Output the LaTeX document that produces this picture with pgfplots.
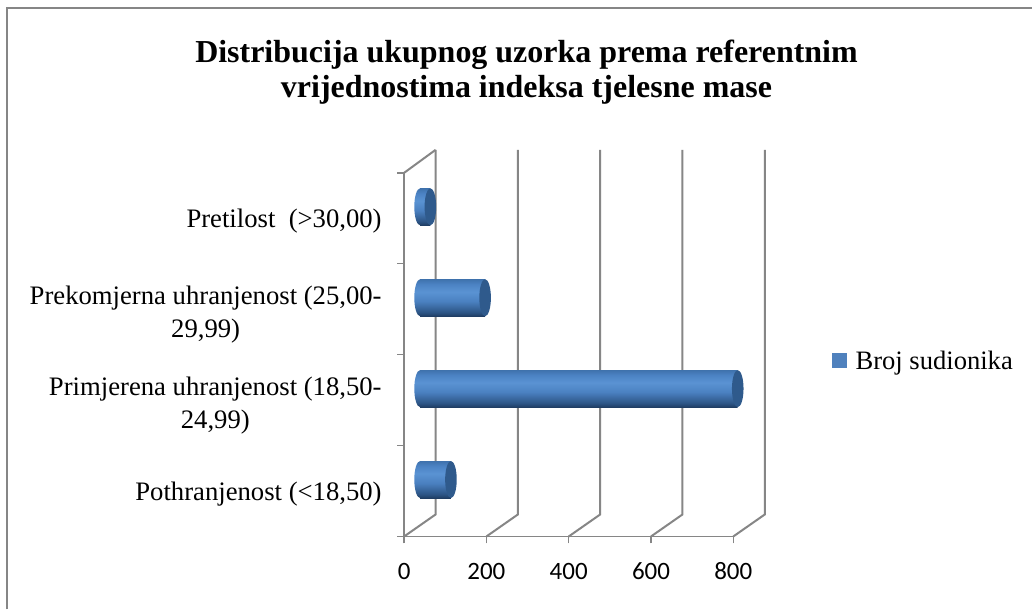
\documentclass[border=0pt]{standalone}
\usepackage{pgfplots}
\usepackage{pgfplotstable}
\pgfplotsset{compat=1.18}
\usepackage{fontspec}
\setmainfont{Liberation Serif}
\newfontfamily\calfont{Carlito}
\definecolor{gridg}{HTML}{868686}
\definecolor{capc}{HTML}{2F5A8C}
\definecolor{legc}{HTML}{4F81BD}
\definecolor{cylA}{HTML}{1F3D63}
\definecolor{cylE}{HTML}{2C5484}
\definecolor{cylB}{HTML}{4A80C0}
\definecolor{cylC}{HTML}{5A93D3}
\definecolor{cylF}{HTML}{4C83C4}
\definecolor{cylD}{HTML}{3F72AD}
\pgfdeclareverticalshading{cyl}{100bp}{
 color(0bp)=(cylA);color(25bp)=(cylA);color(30bp)=(cylE);
 color(45bp)=(cylB);color(58bp)=(cylC);color(68bp)=(cylF);color(75bp)=(cylD);color(100bp)=(cylD)}
\pgfdeclareplotmark{capdark}{\pgfpathellipse{\pgfpointorigin}{\pgfqpoint{5.8pt}{0pt}}{\pgfqpoint{0pt}{18.5pt}}\pgfusepathqfill}
\pgfdeclareplotmark{capshade}{\pgfpathellipse{\pgfpointorigin}{\pgfqpoint{5.8pt}{0pt}}{\pgfqpoint{0pt}{18.5pt}}\pgfshadepath{cyl}{0}\pgfusepath{discard}}
\pgfplotstableread{
v y z
75 0.5 0
772 1.5 0
158 2.5 0
25 3.5 0
}\bars
\begin{document}
\begin{tikzpicture}[x=1pt,y=1pt]
\path[fill=white] (0,0) rectangle (1033,610);
\draw[gridg,line width=2pt] (7.5,0) -- (7.5,601.5) -- (1033,601.5);
\begin{axis}[
 at={(404.5pt,73pt)},anchor=south west,
 scale only axis,width=329.5pt,height=364pt,
 xmin=0,xmax=800,ymin=0,ymax=4,
 clip=false,
 axis x line*=bottom,axis y line*=left,
 axis line style={gridg,line width=1.7pt,-},
 xtick={0,200,400,600,800},
 ytick={0,1,2,3,4},yticklabels={},
 tick style={gridg,line width=1.4pt},
 major tick length=7pt,
 tick align=outside,
 tick pos=left,
 typeset ticklabels with strut,
 x tick label style={font=\fontsize{25}{28}\selectfont\calfont,yshift=-13pt},
 /pgf/number format/assume math mode=true,
 extra y ticks={0.5,1.5,2.5,3.5},
 extra y tick labels={{Pothranjenost (<18,50)},{Primjerena uhranjenost (18,50-\\24,99)},{Prekomjerna uhranjenost (25,00-\\29,99)},{Pretilost~ (>30,00)}},
 extra y tick style={major tick length=0pt,
   tick label style={font=\fontsize{26.7}{33}\selectfont,align=center,xshift=-19pt,yshift=-3pt}},
 legend style={at={(1.30,0.4815)},anchor=west,draw=none,fill=none,font=\fontsize{26.6}{30}\selectfont,inner sep=0pt,legend cell align=left,
   /tikz/every odd column/.append style={column sep=7pt}},
]
\pgfplotsinvokeforeach{0,200,400,600,800}{
\addplot[gridg,line width=2pt,forget plot] coordinates {(#1,0) (#1+76.5,0.242) (#1+76.5,4.253)};
}
\addplot[gridg,line width=2pt,forget plot] coordinates {(0,4) (76.5,4.253)};
\addplot[forget plot,only marks,mark=capshade,xshift=16pt,yshift=11.5pt] table[x=z,y=y] {\bars};
\addplot[forget plot,xbar,bar width=37pt,draw=none,shade,shading=cyl,xshift=16pt,yshift=11.5pt] coordinates {(75,0.5)};
\addplot[forget plot,xbar,bar width=37pt,draw=none,shade,shading=cyl,xshift=16pt,yshift=11.5pt] coordinates {(772,1.5)};
\addplot[forget plot,xbar,bar width=37pt,draw=none,shade,shading=cyl,xshift=16pt,yshift=11.5pt] coordinates {(158,2.5)};
\addplot[forget plot,xbar,bar width=37pt,draw=none,shade,shading=cyl,xshift=16pt,yshift=11.5pt] coordinates {(25,3.5)};
\addplot[forget plot,only marks,mark=capdark,color=capc,xshift=16pt,yshift=11.5pt] table[x=v,y=y] {\bars};
\addlegendimage{legend image code/.code={\fill[legc] (1pt,-6pt) rectangle (15pt,8pt);}}
\addlegendentry{Broj sudionika}
\end{axis}
\node[align=center,font=\fontsize{32}{35}\bfseries\selectfont] at (527,538) {Distribucija ukupnog uzorka prema referentnim\\vrijednostima indeksa tjelesne mase};
\end{tikzpicture}
\end{document}
